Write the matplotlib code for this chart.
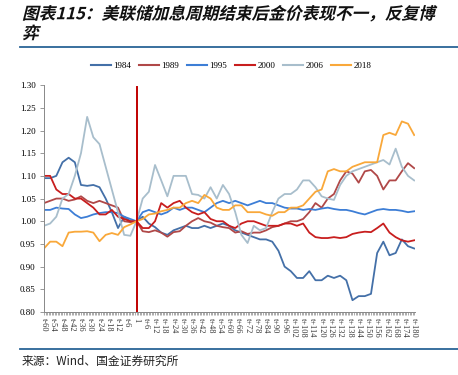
import numpy as np
import matplotlib
matplotlib.use('Agg')
from matplotlib import pyplot as plt
from matplotlib.lines import Line2D
from matplotlib.transforms import Affine2D
import matplotlib.patheffects as pe

# time offsets relative to end of hiking cycle (sampled every 4 trading periods)
t = np.arange(-60, 181, 4)

s1984 = [1.095, 1.095, 1.10, 1.13, 1.14, 1.13, 1.08, 1.078, 1.08, 1.075, 1.05, 1.02, 0.985, 1.01, 1.0,
         1.00, 1.01, 0.995, 0.987, 0.975, 0.97, 0.98, 0.985, 0.99, 0.985, 0.985, 0.99, 0.985, 0.99, 0.995,
         0.99, 0.98, 0.975, 0.97, 0.965, 0.96, 0.96, 0.955, 0.935, 0.90, 0.89, 0.875, 0.875, 0.89, 0.87,
         0.87, 0.88, 0.875, 0.88, 0.87, 0.826, 0.835, 0.835, 0.84, 0.93, 0.955, 0.925, 0.93, 0.96, 0.945, 0.94]
s1989 = [1.04, 1.045, 1.05, 1.05, 1.045, 1.048, 1.055, 1.045, 1.04, 1.045, 1.04, 1.035, 1.03, 1.0, 0.998,
         1.0, 0.978, 0.976, 0.98, 0.975, 0.966, 0.976, 0.978, 0.99, 1.0, 1.007, 1.0, 0.997, 0.99, 0.987,
         0.985, 0.975, 0.978, 0.972, 0.975, 0.975, 0.98, 0.987, 0.99, 0.995, 1.0, 1.0, 1.005, 1.02, 1.04,
         1.03, 1.05, 1.06, 1.09, 1.11, 1.105, 1.085, 1.11, 1.113, 1.10, 1.07, 1.09, 1.09, 1.11, 1.128, 1.117]
s1995 = [1.025, 1.025, 1.03, 1.028, 1.027, 1.015, 1.007, 1.01, 1.015, 1.018, 1.02, 1.02, 1.018, 1.01, 1.005,
         1.00, 1.02, 1.025, 1.02, 1.015, 1.02, 1.03, 1.025, 1.03, 1.03, 1.025, 1.02, 1.03, 1.04, 1.045,
         1.04, 1.045, 1.04, 1.035, 1.04, 1.045, 1.04, 1.04, 1.035, 1.03, 1.028, 1.028, 1.025, 1.027, 1.025,
         1.028, 1.03, 1.027, 1.025, 1.025, 1.022, 1.018, 1.015, 1.02, 1.025, 1.027, 1.025, 1.025, 1.023, 1.02, 1.022]
s2000 = [1.10, 1.10, 1.07, 1.06, 1.06, 1.05, 1.05, 1.04, 1.03, 1.015, 1.015, 1.025, 1.01, 1.005, 1.0,
         1.0, 0.985, 0.985, 1.0, 1.04, 1.03, 1.04, 1.045, 1.03, 1.02, 1.015, 1.02, 1.005, 1.0, 1.0,
         0.99, 0.985, 0.995, 1.0, 1.0, 0.995, 0.99, 0.99, 0.99, 0.995, 0.995, 0.99, 0.995, 0.975, 0.965,
         0.963, 0.963, 0.965, 0.963, 0.965, 0.972, 0.975, 0.977, 0.976, 0.985, 0.995, 0.975, 0.965, 0.958, 0.955, 0.958]
s2006 = [0.99, 0.995, 1.01, 1.05, 1.06, 1.10, 1.15, 1.23, 1.185, 1.17, 1.12, 1.07, 1.02, 0.97, 0.968,
         1.0, 1.05, 1.065, 1.124, 1.09, 1.055, 1.10, 1.10, 1.10, 1.06, 1.058, 1.05, 1.075, 1.05, 1.08,
         1.06, 1.02, 0.97, 0.952, 0.99, 0.98, 0.985, 1.02, 1.05, 1.06, 1.06, 1.07, 1.09, 1.09, 1.075,
         1.055, 1.05, 1.047, 1.08, 1.10, 1.11, 1.115, 1.12, 1.125, 1.13, 1.135, 1.125, 1.16, 1.12, 1.10, 1.09]
s2018 = [0.94, 0.955, 0.955, 0.945, 0.975, 0.977, 0.977, 0.978, 0.975, 0.956, 0.97, 0.974, 0.97, 0.987, 0.993,
         1.0, 1.005, 1.015, 1.017, 1.022, 1.025, 1.03, 1.03, 1.04, 1.045, 1.04, 1.058, 1.05, 1.03, 1.025,
         1.025, 1.035, 1.035, 1.02, 1.02, 1.02, 1.015, 1.012, 1.02, 1.02, 1.03, 1.03, 1.035, 1.05, 1.065,
         1.07, 1.11, 1.115, 1.11, 1.11, 1.12, 1.125, 1.13, 1.13, 1.13, 1.19, 1.195, 1.19, 1.22, 1.215, 1.19]

names = ['1984', '1989', '1995', '2000', '2006', '2018']
series = [s1984, s1989, s1995, s2000, s2006, s2018]
colors = ['#4470A8', '#B04848', '#3D7ED6', '#C81E1E', '#A8BECC', '#F9A83A']

xt = np.arange(-60, 181, 6)
xlabels = ['1' if v == 0 else ('t%+d' % v) for v in xt]

serif = 'Liberation Serif'
cjk = ['Noto Sans CJK SC', 'DejaVu Sans']


class Slant(pe.AbstractPathEffect):
    # fake italic for CJK glyphs (no italic face installed)
    def draw_path(self, renderer, gc, tpath, affine, rgbFace=None):
        renderer.draw_path(gc, tpath, Affine2D().skew_deg(14, 0) + affine, rgbFace)


fig = plt.figure(figsize=(4.58, 3.75), dpi=100)
ax = fig.add_axes([0.096, 0.168, 0.81, 0.605])

for name, s, c in zip(names, series, colors):
    ax.plot(t, s, color=c, lw=1.3, label=name)
ax.axvline(0, ymin=0, ymax=0.99, color='#C00000', lw=1.4)

ax.set_xlim(-60, 180.5)
ax.set_ylim(0.80, 1.30)
ax.set_yticks(np.arange(0.80, 1.301, 0.05))
ax.set_yticklabels(['%.2f' % v for v in np.arange(0.80, 1.301, 0.05)], fontfamily=serif, fontsize=6.5)
ax.set_xticks(xt)
ax.set_xticklabels(xlabels, rotation=270, fontfamily=serif, fontsize=6, color='#333333')
ax.set_xticks(np.arange(-60, 181, 1), minor=True)
ax.tick_params(axis='x', which='both', length=2, width=0.5, color='#888888', pad=2)
ax.tick_params(axis='y', length=3, width=0.6, color='#888888', pad=3)
for sp in ['top', 'right']:
    ax.spines[sp].set_visible(False)
for sp in ['left', 'bottom']:
    ax.spines[sp].set_color('#888888')
    ax.spines[sp].set_linewidth(0.7)

handles = [Line2D([], [], color=c, lw=1.5) for c in colors]
fig.legend(handles, names, loc='center', bbox_to_anchor=(0.505, 0.824), ncol=6, frameon=False,
           prop={'family': serif, 'size': 6.5}, handlelength=2.2, handletextpad=0.25, columnspacing=0.9)

for txt, yy in [('图表115：美联储加息周期结束后金价表现不一，反复博', 0.962), ('弈', 0.91)]:
    fig.text(0.048, yy, txt, fontfamily=cjk, fontsize=12, fontweight='bold', va='center',
             color='#111111', path_effects=[Slant()])
fig.add_artist(Line2D([0.044, 1.0], [0.876, 0.876], color='#2A6496', lw=1.3))
fig.add_artist(Line2D([0.044, 1.0], [0.070, 0.070], color='#2A6496', lw=1.3))
fig.text(0.048, 0.037, '来源：Wind、国金证券研究所', fontfamily=cjk, fontsize=8.5, va='center', color='#222222')

plt.savefig('out.png', dpi=100)
plt.close()
